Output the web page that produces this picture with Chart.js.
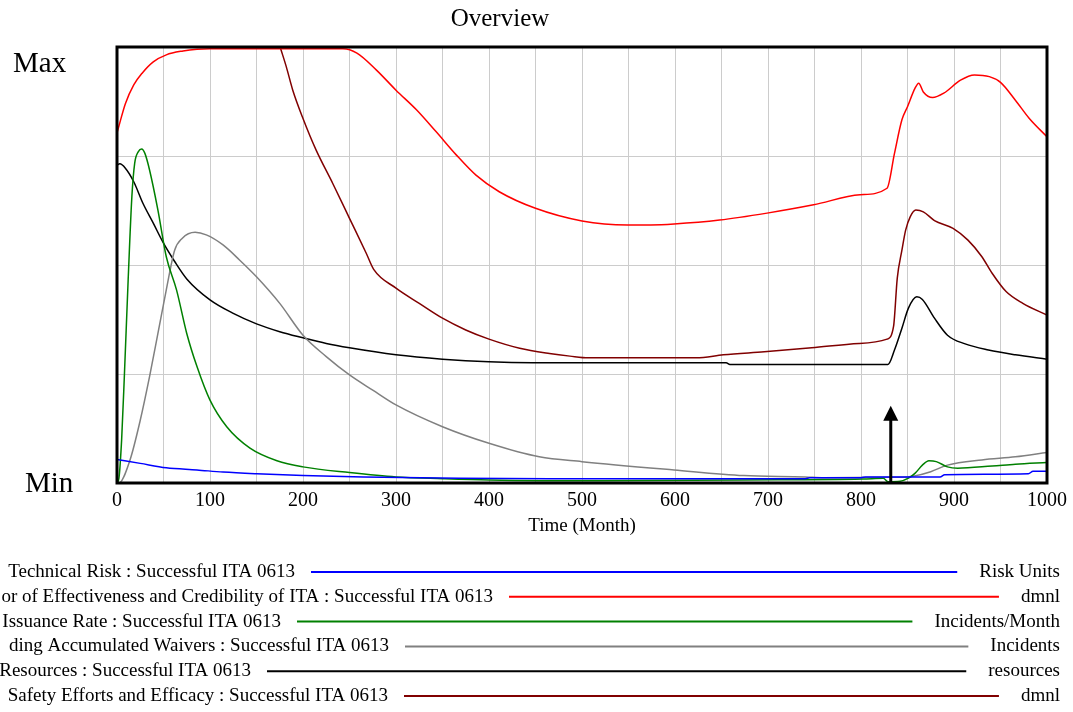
<!DOCTYPE html>
<html lang="en">

<head>
	<meta charset="UTF-8">
	<title>Overview</title>
	<script src="https://cdn.jsdelivr.net/npm/chart.js"></script>
	<style>
		body {
			margin: 0;
			background: #fff;
		}

		canvas {
			display: block;
		}
	</style>
</head>

<body>
	<canvas id="overviewChart" width="1073" height="712"></canvas>

	<script>
		// each series is scaled to its own range: 0 = Min, 1 = Max
		const riskTime = [0, 25, 53, 86, 114, 150, 200, 265, 368, 465, 740, 745, 800, 805, 885, 890, 980, 985, 1000];
		const riskValue = [0.054, 0.045, 0.035, 0.030, 0.025, 0.021, 0.017, 0.014, 0.011, 0.010, 0.010, 0.012, 0.012, 0.014, 0.014, 0.019, 0.021, 0.027, 0.027];

		const credTime = [0, 3, 9, 18, 27, 39, 53, 71, 86, 100, 243, 258, 279, 300, 322, 343, 365, 386, 411, 450, 500, 549, 574, 599, 648, 699, 749, 799, 828, 836, 844, 850, 858, 862, 867, 877, 889, 907, 922, 938, 950, 966, 981, 1000];
		const credValue = [0.803, 0.826, 0.87, 0.913, 0.94, 0.966, 0.982, 0.991, 0.995, 0.996, 0.996, 0.986, 0.947, 0.901, 0.856, 0.806, 0.752, 0.706, 0.668, 0.630, 0.601, 0.592, 0.592, 0.594, 0.603, 0.619, 0.638, 0.661, 0.676, 0.756, 0.833, 0.863, 0.905, 0.917, 0.897, 0.884, 0.894, 0.924, 0.936, 0.932, 0.919, 0.878, 0.836, 0.794];

		const issueTime = [0, 2, 5, 8, 12, 16, 19, 23, 26.5, 30, 35, 44, 53, 64, 75, 86, 100, 118, 143, 172, 200, 250, 300, 350, 400, 520, 673, 802, 824, 829, 842, 851, 858, 866, 873, 881, 893, 904, 941, 966, 1000];
		const issueValue = [0, 0.01, 0.1, 0.25, 0.466, 0.657, 0.733, 0.760, 0.766, 0.756, 0.718, 0.626, 0.519, 0.443, 0.343, 0.267, 0.19, 0.129, 0.080, 0.051, 0.037, 0.024, 0.014, 0.010, 0.007, 0.005, 0.007, 0.009, 0.011, 0.003, 0.004, 0.011, 0.022, 0.041, 0.051, 0.049, 0.037, 0.034, 0.039, 0.043, 0.047];

		const waiverTime = [0, 2, 14, 25, 35, 44, 53, 62, 70, 84, 96, 114, 132, 150, 175, 200, 225, 250, 275, 300, 350, 400, 454, 500, 599, 674, 740, 760, 828, 845, 857, 875, 893, 930, 966, 1000];
		const waiverValue = [0, 0, 0.053, 0.144, 0.244, 0.343, 0.443, 0.534, 0.561, 0.575, 0.569, 0.546, 0.511, 0.473, 0.412, 0.339, 0.290, 0.248, 0.213, 0.179, 0.129, 0.091, 0.060, 0.049, 0.030, 0.017, 0.014, 0.012, 0.013, 0.013, 0.016, 0.026, 0.041, 0.053, 0.060, 0.070];

		const resTime = [0, 3, 9, 18, 28, 39, 50, 62, 75, 100, 125, 150, 175, 200, 225, 250, 300, 350, 400, 447, 655, 659, 829, 836, 844, 851, 860, 866, 879, 893, 912, 937, 966, 1000];
		const resValue = [0.729, 0.732, 0.722, 0.691, 0.641, 0.596, 0.550, 0.508, 0.468, 0.42, 0.389, 0.365, 0.347, 0.333, 0.320, 0.310, 0.294, 0.284, 0.278, 0.276, 0.276, 0.272, 0.272, 0.305, 0.355, 0.401, 0.427, 0.421, 0.378, 0.339, 0.319, 0.305, 0.294, 0.284];

		const safetyTime = [176, 182, 189, 200, 214, 232, 250, 268, 276, 300, 325, 350, 375, 400, 433, 465, 487, 507, 623, 652, 696, 747, 798, 828, 835, 839, 844, 848, 853, 859, 867, 879, 899, 915, 930, 941, 956, 974, 1000];
		const safetyValue = [0.996, 0.955, 0.901, 0.836, 0.764, 0.687, 0.607, 0.527, 0.49, 0.447, 0.412, 0.378, 0.351, 0.330, 0.309, 0.297, 0.291, 0.287, 0.287, 0.294, 0.301, 0.310, 0.320, 0.330, 0.359, 0.47, 0.534, 0.580, 0.611, 0.626, 0.622, 0.602, 0.584, 0.557, 0.519, 0.481, 0.439, 0.412, 0.385];

		const seriesNames = [
			'Technical Risk : Successful ITA 0613',
			'or of Effectiveness and Credibility of ITA : Successful ITA 0613',
			'Issuance Rate : Successful ITA 0613',
			'ding Accumulated Waivers : Successful ITA 0613',
			'Resources : Successful ITA 0613',
			'Safety Efforts and Efficacy : Successful ITA 0613'
		];
		const seriesUnits = ['Risk Units', 'dmnl', 'Incidents/Month', 'Incidents', 'resources', 'dmnl'];
		const seriesColors = ['#0000ff', '#ff0000', '#008000', '#808080', '#000000', '#800000'];

		// policy change marker
		const markerTime = 832;
		const markerTop = 0.177;

		const FONT = "'Liberation Serif', 'Times New Roman', serif";

		const zip = (ts, vs) => ts.map((t, i) => ({ x: t, y: vs[i] }));
		const seriesData = [
			zip(riskTime, riskValue),
			zip(credTime, credValue),
			zip(issueTime, issueValue),
			zip(waiverTime, waiverValue),
			zip(resTime, resValue),
			zip(safetyTime, safetyValue)
		];

		// frame, marker arrow, labels and the unit legend under the plot
		const overlay = {
			id: 'overlay',
			afterDraw(chart) {
				const ctx = chart.ctx;
				const a = chart.chartArea;
				const xs = chart.scales.x;
				const ys = chart.scales.y;
				ctx.save();

				ctx.strokeStyle = '#000';
				ctx.lineWidth = 3;
				ctx.strokeRect(a.left, a.top, a.right - a.left, a.bottom - a.top);

				// arrow
				const ax = xs.getPixelForValue(markerTime);
				const ay = ys.getPixelForValue(markerTop);
				ctx.lineWidth = 3;
				ctx.beginPath();
				ctx.moveTo(ax, a.bottom);
				ctx.lineTo(ax, ay + 12);
				ctx.stroke();
				ctx.fillStyle = '#000';
				ctx.beginPath();
				ctx.moveTo(ax, ay);
				ctx.lineTo(ax - 7.5, ay + 15);
				ctx.lineTo(ax + 7.5, ay + 15);
				ctx.closePath();
				ctx.fill();

				ctx.fillStyle = '#000';
				ctx.textBaseline = 'alphabetic';

				ctx.font = '25px ' + FONT;
				ctx.textAlign = 'center';
				ctx.fillText('Overview', 500, 26);

				ctx.font = '29px ' + FONT;
				ctx.textAlign = 'left';
				ctx.fillText('Max', 13, 72);
				ctx.fillText('Min', 25, 492);

				ctx.font = '19px ' + FONT;
				ctx.textAlign = 'center';
				ctx.fillText('Time (Month)', (a.left + a.right) / 2, 531);

				// legend rows
				const textEnd = [295, 493, 281, 389, 251, 388];
				const unitRight = 1060;
				seriesNames.forEach((name, i) => {
					const y = 572 + i * 24.8;
					ctx.font = '19px ' + FONT;
					ctx.fillStyle = '#000';
					ctx.textBaseline = 'middle';
					ctx.textAlign = 'right';
					ctx.fillText(name, textEnd[i], y);
					ctx.fillText(seriesUnits[i], unitRight, y);
					const unitW = ctx.measureText(seriesUnits[i]).width;
					ctx.strokeStyle = seriesColors[i];
					ctx.lineWidth = 2;
					ctx.beginPath();
					ctx.moveTo(textEnd[i] + 16, y);
					ctx.lineTo(unitRight - unitW - 22, y);
					ctx.stroke();
				});

				ctx.restore();
			}
		};

		new Chart(document.getElementById('overviewChart'), {
			type: 'line',
			data: {
				datasets: seriesData.map((pts, i) => ({
					label: seriesNames[i],
					data: pts,
					borderColor: seriesColors[i],
					borderWidth: 1.5,
					pointRadius: 0,
					cubicInterpolationMode: 'monotone',
					fill: false
				}))
			},
			options: {
				responsive: false,
				animation: false,
				layout: { padding: { top: 47, right: 25, left: 0, bottom: 0 } },
				plugins: {
					legend: { display: false },
					tooltip: { enabled: false }
				},
				scales: {
					x: {
						type: 'linear',
						min: 0,
						max: 1000,
						afterFit: (s) => { s.height = 229; },
						grid: { color: '#cccccc', lineWidth: 1, drawTicks: false },
						border: { display: false },
						ticks: {
							stepSize: 50,
							autoSkip: false,
							maxRotation: 0,
							padding: 6,
							color: '#000',
							font: { family: FONT, size: 20 },
							callback: (v) => (v % 100 === 0 ? v : '')
						}
					},
					y: {
						min: 0,
						max: 1,
						afterFit: (s) => { s.width = 117; },
						grid: { color: '#cccccc', lineWidth: 1, drawTicks: false },
						border: { display: false },
						ticks: { stepSize: 0.25, display: false }
					}
				}
			},
			plugins: [overlay]
		});
	</script>
</body>

</html>
